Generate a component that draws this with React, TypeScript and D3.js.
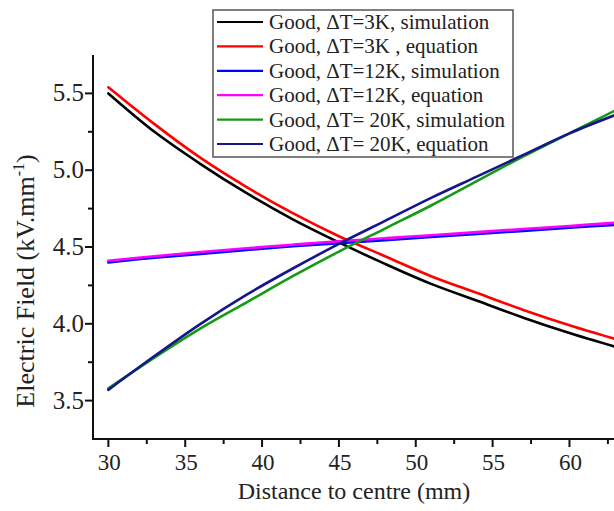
import React from "react";
import * as d3 from "d3";

// Radial distance from the centre (mm)
const distance = [30, 33, 36, 39, 42, 45, 48, 51, 54, 57, 60, 63];

// Electric field (kV/mm) for each case
const good3KSim = [5.5, 5.25, 5.04, 4.85, 4.68, 4.53, 4.39, 4.26, 4.15, 4.04, 3.94, 3.85];
const good3KEq = [5.54, 5.3, 5.08, 4.89, 4.72, 4.57, 4.44, 4.31, 4.2, 4.09, 3.99, 3.9];
const good12KSim = [4.4, 4.43, 4.455, 4.48, 4.505, 4.525, 4.545, 4.565, 4.585, 4.605, 4.625, 4.645];
const good12KEq = [4.41, 4.44, 4.467, 4.492, 4.515, 4.537, 4.557, 4.577, 4.597, 4.617, 4.637, 4.658];
const good20KSim = [3.58, 3.78, 3.97, 4.14, 4.31, 4.47, 4.62, 4.77, 4.93, 5.09, 5.24, 5.39];
const good20KEq = [3.57, 3.79, 4.0, 4.19, 4.36, 4.52, 4.67, 4.82, 4.96, 5.1, 5.24, 5.36];

const seriesLabels = [
  "Good, \u0394T=3K, simulation",
  "Good, \u0394T=3K , equation",
  "Good, \u0394T=12K, simulation",
  "Good, \u0394T=12K, equation",
  "Good, \u0394T= 20K, simulation",
  "Good, \u0394T= 20K, equation",
];
const seriesColors = ["#000000", "#ff0000", "#0000ff", "#ff00ff", "#159a15", "#16168a"];
const seriesValues = [good3KSim, good3KEq, good12KSim, good12KEq, good20KSim, good20KEq];

const xMajorTicks = [30, 35, 40, 45, 50, 55, 60];
const xMinorTicks = [32.5, 37.5, 42.5, 47.5, 52.5, 57.5, 62.5];
const yMajorTicks = [3.5, 4.0, 4.5, 5.0, 5.5];
const yMinorTicks = [3.75, 4.25, 4.75, 5.25];

const W = 614;
const H = 511;
const FONT = '"Liberation Serif", "DejaVu Serif", "Times New Roman", serif';

export default function App() {
  const left = 93;
  const bottom = 439;
  const top = 55;
  const x = d3.scaleLinear().domain([29, 63.5]).range([left, left + 34.5 * 15.37]);
  const y = d3.scaleLinear().domain([3.25, 5.75]).range([bottom, top]);

  const line = d3
    .line<number>()
    .x((_, i) => x(distance[i]))
    .y((v) => y(v))
    .curve(d3.curveCatmullRom.alpha(0.5));

  const legendX = 213;
  const legendY = 10;
  const rowH = 24.4;
  const txt = { fontFamily: FONT, fill: "#222" };

  return (
    <svg
      width={W}
      height={H}
      style={{ position: "absolute", left: 0, top: 0, background: "#fff" }}
    >
      {/* data curves */}
      <g fill="none" strokeWidth={2.6} strokeLinejoin="round" strokeLinecap="round">
        {seriesValues.map((vals, k) => (
          <path key={k} d={line(vals) || ""} stroke={seriesColors[k]} />
        ))}
      </g>

      {/* axes */}
      <g stroke="#111" strokeWidth={2}>
        <line x1={left} y1={top} x2={left} y2={bottom + 1} />
        <line x1={left - 1} y1={bottom} x2={W} y2={bottom} />
        {xMajorTicks.map((t) => (
          <line key={"xM" + t} x1={x(t)} x2={x(t)} y1={bottom} y2={bottom + 8} />
        ))}
        {xMinorTicks.map((t) => (
          <line key={"xm" + t} x1={x(t)} x2={x(t)} y1={bottom} y2={bottom + 5} />
        ))}
        {yMajorTicks.map((t) => (
          <line key={"yM" + t} x1={left - 8} x2={left} y1={y(t)} y2={y(t)} />
        ))}
        {yMinorTicks.map((t) => (
          <line key={"ym" + t} x1={left - 5} x2={left} y1={y(t)} y2={y(t)} />
        ))}
      </g>

      {/* tick labels */}
      {xMajorTicks.map((t) => (
        <text key={"xl" + t} x={x(t) + 1} y={470} textAnchor="middle" fontSize={23} style={txt}>
          {t}
        </text>
      ))}
      {yMajorTicks.map((t) => (
        <text key={"yl" + t} x={84} y={y(t) + 8} textAnchor="end" fontSize={25} style={txt}>
          {t.toFixed(1)}
        </text>
      ))}

      {/* axis titles */}
      <text x={354} y={499} textAnchor="middle" fontSize={24} style={txt}>
        Distance to centre (mm)
      </text>
      <text
        transform="translate(34, 281) rotate(-90)"
        textAnchor="middle"
        fontSize={26}
        style={txt}
      >
        Electric  Field (kV.mm
        <tspan fontSize={16} dy={-10}>
          -1
        </tspan>
        <tspan dy={10}>)</tspan>
      </text>

      {/* legend */}
      <g>
        <rect
          x={legendX}
          y={legendY}
          width={300}
          height={147}
          fill="#fff"
          stroke="#555"
          strokeWidth={1.5}
        />
        {seriesLabels.map((lab, k) => {
          const cy = legendY + 12 + k * rowH;
          return (
            <g key={lab}>
              <line
                x1={legendX + 4}
                x2={legendX + 50}
                y1={cy}
                y2={cy}
                stroke={seriesColors[k]}
                strokeWidth={2.2}
              />
              <text x={legendX + 56} y={cy + 7} fontSize={21} style={txt}>
                {lab}
              </text>
            </g>
          );
        })}
      </g>
    </svg>
  );
}
